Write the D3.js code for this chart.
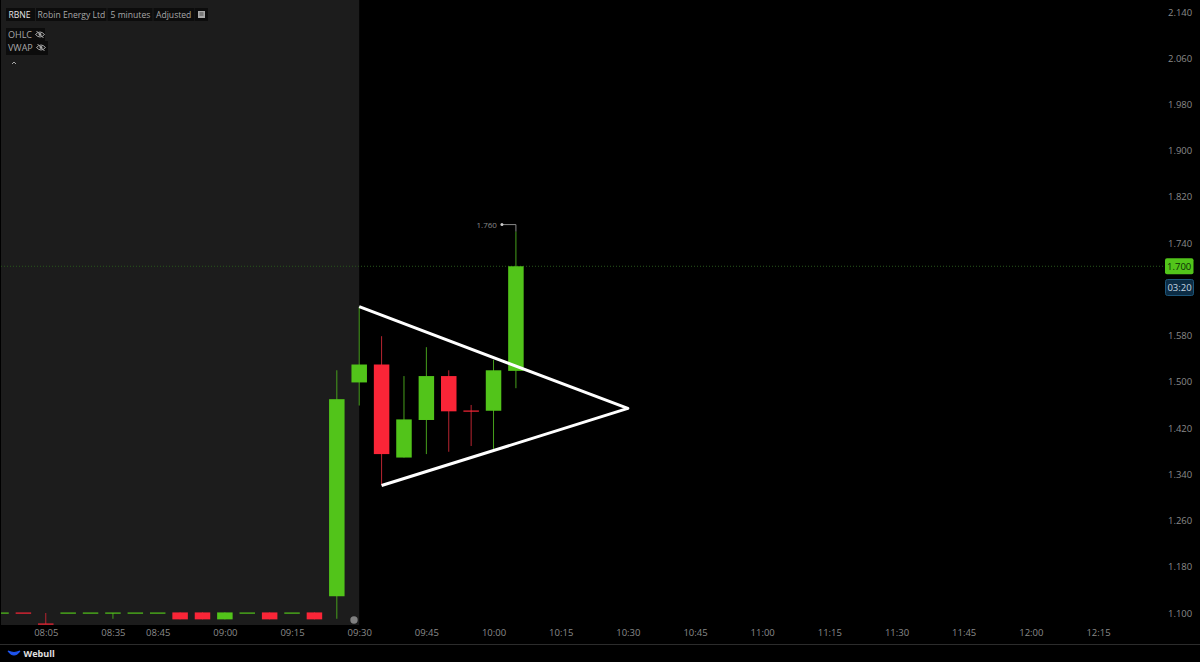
<!DOCTYPE html>
<meta charset="utf-8">
<style>
html, body { margin: 0; padding: 0; background: #000; overflow: hidden; }
text { font-family: "Open Sans", sans-serif; }
.tick text { fill: #8a8a8a; font-size: 9.5px; font-family: "Open Sans", sans-serif; }
.domain { display: none; }
</style>
<svg width="1200" height="662"></svg>
<script src="https://d3js.org/d3.v7.min.js"></script>
<script>
// 5 minute bars, premarket rows are not evenly spaced in time
var times = ["07:50","07:55","08:05","08:10","08:30","08:35","08:40","08:45","08:50","08:55","09:00","09:05","09:10","09:15","09:20","09:25",
  "09:30","09:35","09:40","09:45","09:50","09:55","10:00","10:05","10:10","10:15","10:20","10:25","10:30","10:35","10:40","10:45","10:50","10:55",
  "11:00","11:05","11:10","11:15","11:20","11:25","11:30","11:35","11:40","11:45","11:50","11:55","12:00","12:05","12:10","12:15"];
var barTimes = times.slice(0, 24);
var opens  = [1.100,1.100,1.081,1.100,1.100,1.100,1.100,1.100,1.101,1.101,1.089,1.100,1.101,1.100,1.101,1.129,
  1.499,1.530,1.369,1.434,1.510,1.450,1.450,1.519];
var closes = [1.100,1.100,1.081,1.100,1.100,1.100,1.100,1.100,1.089,1.089,1.101,1.100,1.089,1.100,1.089,1.470,
  1.530,1.375,1.435,1.510,1.449,1.450,1.520,1.700];
var highs  = [1.100,1.100,1.100,1.100,1.100,1.100,1.100,1.100,1.101,1.101,1.101,1.100,1.101,1.100,1.101,1.520,
  1.630,1.579,1.510,1.560,1.520,1.460,1.538,1.760];
var lows   = [1.100,1.100,1.081,1.100,1.100,1.090,1.100,1.100,1.089,1.089,1.089,1.100,1.089,1.100,1.089,1.090,
  1.459,1.321,1.369,1.375,1.379,1.389,1.384,1.489];

var priceTicks = [2.14,2.06,1.98,1.90,1.82,1.74,1.58,1.50,1.42,1.34,1.26,1.18,1.10];
var timeTicks = ["08:05","08:35","08:45","09:00","09:15","09:30","09:45","10:00","10:15","10:30","10:45","11:00","11:15","11:30","11:45","12:00","12:15"];
var lastPrice = 1.70;
var peakPrice = 1.76;
var peakTime = "10:05";
var trianglePoints = [["09:30",1.630],["10:30",1.454],["09:35",1.3206]];
// flat bars keep the colour they have in the picture
var flatRed = ["07:55","08:05","09:55"];

var green = "#52c41a", red = "#fa2537", wickGreen = "#469f1c", wickRed = "#b82430";

var svg = d3.select("svg");
var x = d3.scalePoint().domain(times).range([1, 1098]);
var y = d3.scaleLinear().domain([1.10, 2.14]).range([613, 12]);
var bodyW = 15.5;

// premarket shade
svg.append("rect").attr("x", 1).attr("y", 0).attr("width", x("09:30") - 1).attr("height", 625).attr("fill", "#1c1c1c");

svg.append("line").attr("x1", 1).attr("x2", 1165).attr("y1", y(lastPrice)).attr("y2", y(lastPrice))
  .attr("stroke", "#28561a").attr("stroke-width", 1).attr("stroke-dasharray", "1,2");

// axes
svg.append("g").attr("transform", "translate(1168,0)")
  .call(d3.axisRight(y).tickValues(priceTicks).tickFormat(d3.format(".3f")).tickSize(0).tickPadding(0))
  .selectAll("text").attr("text-anchor", "start");
svg.append("g").attr("transform", "translate(0,625)")
  .call(d3.axisBottom(x).tickValues(timeTicks).tickSize(0).tickPadding(4));

// candles
var plot = svg.append("g");
plot.append("clipPath").attr("id", "plotClip").append("rect").attr("x", 1).attr("y", 0).attr("width", 1160).attr("height", 625);
var bars = plot.append("g").attr("clip-path", "url(#plotClip)").selectAll("g").data(barTimes).enter().append("g");

function barColor(d, i, w) {
  var up = flatRed.indexOf(d) < 0 && closes[i] >= opens[i];
  return w ? (up ? wickGreen : wickRed) : (up ? green : red);
}

bars.append("line")
  .attr("x1", function(d) { return x(d); }).attr("x2", function(d) { return x(d); })
  .attr("y1", function(d, i) { return y(highs[i]); })
  .attr("y2", function(d, i) { return y(lows[i]); })
  .attr("stroke", function(d, i) { return barColor(d, i, true); })
  .attr("stroke-width", 1);

// flat bars are drawn as a thin dash, snapped so they stay coloured
bars.append("rect")
  .attr("x", function(d) { return x(d) - bodyW / 2; })
  .attr("width", bodyW)
  .attr("y", function(d, i) {
    var top = y(Math.max(opens[i], closes[i]));
    return opens[i] === closes[i] ? Math.round(top) - 0.5 : top;
  })
  .attr("height", function(d, i) { return Math.max(1.2, Math.abs(y(opens[i]) - y(closes[i]))); })
  .attr("fill", function(d, i) { return barColor(d, i, false); });

// triangle drawing
svg.append("path")
  .attr("d", d3.line().x(function(d) { return x(d[0]); }).y(function(d) { return y(d[1]); })(trianglePoints))
  .attr("fill", "none").attr("stroke", "#fff").attr("stroke-width", 3).attr("stroke-linejoin", "round");

// high marker
var peakX = x(peakTime), peakY = y(peakPrice);
svg.append("path").attr("d", "M" + (peakX - 14) + "," + (peakY - 7) + "H" + peakX + "V" + peakY)
  .attr("fill", "none").attr("stroke", "#8a8a8a").attr("stroke-width", 1);
svg.append("circle").attr("cx", peakX - 14).attr("cy", peakY - 7).attr("r", 1.5).attr("fill", "#ccc");
svg.append("text").attr("x", peakX - 19).attr("y", peakY - 3.5).attr("text-anchor", "end")
  .attr("font-size", 8).attr("fill", "#8a8a8a").text(d3.format(".3f")(peakPrice));

// price and countdown tags
svg.append("rect").attr("x", 1165).attr("y", y(lastPrice) - 8).attr("width", 28.5).attr("height", 16).attr("rx", 2).attr("fill", green);
svg.append("text").attr("x", 1179.2).attr("y", y(lastPrice) + 3.5).attr("text-anchor", "middle")
  .attr("font-size", 9.5).attr("fill", "#0b2a05").text(d3.format(".3f")(lastPrice));
svg.append("rect").attr("x", 1165.5).attr("y", 279.5).attr("width", 28).attr("height", 16).attr("rx", 2)
  .attr("fill", "#0c2c44").attr("stroke", "#1c5579");
svg.append("text").attr("x", 1179.5).attr("y", 291).attr("text-anchor", "middle")
  .attr("font-size", 9.5).attr("fill", "#c4d4e0").text("03:20");

// header chips
var chips = [["RBNE",6,29,8.5,"#e4e4e4"],["Robin Energy Ltd",36,70.5,37.5,"#a8a8a8"],["5 minutes",107.5,45,110.5,"#a8a8a8"],["Adjusted",153.5,41,156,"#a8a8a8"]];
chips.forEach(function(c) {
  svg.append("rect").attr("x", c[1]).attr("y", 8).attr("width", c[2]).attr("height", 13).attr("fill", "#0c0c0c");
  svg.append("text").attr("x", c[3]).attr("y", 18).attr("font-size", 8.6).attr("fill", c[4]).text(c[0]);
});
svg.append("rect").attr("x", 195).attr("y", 8).attr("width", 13).attr("height", 13).attr("fill", "#0c0c0c");
svg.append("rect").attr("x", 198).attr("y", 11).attr("width", 7).attr("height", 7).attr("fill", "#a8a8a8");
svg.append("path").attr("d", "M199.5,13H203.5M199.5,15H203.5").attr("stroke", "#333").attr("stroke-width", 0.8);

// indicator legend
[["OHLC",28,39],["VWAP",41,42]].forEach(function(c) {
  svg.append("rect").attr("x", 6).attr("y", c[1]).attr("width", c[2]).attr("height", 14).attr("fill", "#0c0c0c");
  svg.append("text").attr("x", 8).attr("y", c[1] + 9.5).attr("font-size", 9).attr("fill", "#a8a8a8").text(c[0]);
  var ex = c[0] === "VWAP" ? 41 : 40, ey = c[1] + 6.5;
  svg.append("path").attr("d", "M" + (ex - 4.5) + "," + ey + "Q" + ex + "," + (ey - 5) + " " + (ex + 4.5) + "," + ey + "Q" + ex + "," + (ey + 5) + " " + (ex - 4.5) + "," + ey + "Z")
    .attr("fill", "none").attr("stroke", "#a8a8a8").attr("stroke-width", 1);
  svg.append("circle").attr("cx", ex).attr("cy", ey).attr("r", 1.4).attr("fill", "#a8a8a8");
  svg.append("line").attr("x1", ex - 3.5).attr("y1", ey - 3.5).attr("x2", ex + 3.5).attr("y2", ey + 3.5).attr("stroke", "#a8a8a8").attr("stroke-width", 1);
});
svg.append("path").attr("d", "M12,64L14,62L16,64").attr("fill", "none").attr("stroke", "#a8a8a8").attr("stroke-width", 1);

// replay dot
svg.append("circle").attr("cx", 354).attr("cy", 620).attr("r", 3.7).attr("fill", "#808080");

// footer
svg.append("line").attr("x1", 0).attr("x2", 1200).attr("y1", 644.5).attr("y2", 644.5).attr("stroke", "#2c2c2c");
svg.append("path").attr("d", "M8,651Q14,659 20,651Q14,654 8,651Z").attr("fill", "#1f55f0").attr("stroke", "#1f55f0").attr("stroke-width", 1.2);
svg.append("text").attr("x", 23.5).attr("y", 656.5).attr("font-size", 9).attr("font-weight", 700).attr("fill", "#e0e0e0").text("Webull");
</script>
